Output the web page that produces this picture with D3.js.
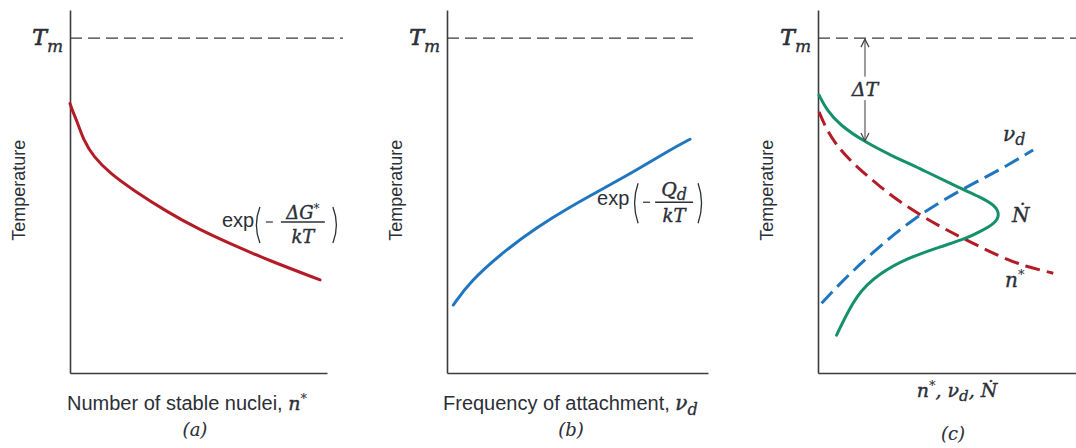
<!DOCTYPE html>
<html><head><meta charset="utf-8">
<script src="https://cdn.jsdelivr.net/npm/d3@7"></script>
<style>body{margin:0;background:#fff}svg{display:block}</style>
</head><body>
<svg id="chart" width="1076" height="448"></svg>
<script>
// ---------- data (x: relative rate 0-100, y: temperature, Tm = 100) ----------
const Tm = 100;
const nucleiA = [[0,80.5],[1.0,78.2],[2.6,75.5],[5.2,69.6],[9.1,64.6],[15.6,59.6],[24.6,54.6],[37.6,48.2],[50.6,42.7],[63.5,38.2],[76.5,33.9],[97.3,27.8]];
const attachB = [[2.4,20.3],[8.8,27.3],[21.6,36.2],[34.4,43.5],[47.1,49.6],[59.9,55.1],[72.7,60.6],[85.4,66.6],[93.1,69.8]];
const rateC   = [[0.4,83.0],[3.4,78.5],[8.5,74.0],[18.2,69.0],[27.9,65.1],[40.8,60.6],[53.8,55.6],[62.8,52.6],[68.6,50.1],[70.5,47.2],[68.6,44.7],[62.8,42.2],[57.6,40.2],[47.3,37.7],[34.4,34.2],[24.0,29.8],[15.0,23.8],[7.2,11.3]];
const nucleiC = [[0.4,78.0],[3.4,72.5],[8.5,66.6],[15.0,61.6],[24.0,55.6],[34.4,49.6],[47.3,43.7],[57.6,39.7],[70.5,34.7],[80.9,31.7],[91.2,29.8]];
const attachC = [[1.4,20.8],[8.5,26.8],[21.4,36.2],[36.9,46.2],[55.0,54.6],[70.5,60.6],[83.4,66.6]];
const panelLetters = ["(a)","(b)","(c)"];
const yTitle = "Temperature";

// ---------- style ----------
const RED="#b31c26", BLUE="#1f76bf", GREEN="#14916b", TXT="#2b2f38", AX="#3c3c3c";
const SANS="'Liberation Sans', Arial, sans-serif", SERIF="'DejaVu Serif', serif";

const svg = d3.select("#chart");
const y = d3.scaleLinear().domain([0,108.4]).range([373,10]);

const layout = [
  {x0:70,  x1:327,  tmEnd:106.2, letterX:195, letterY:436, titleY:410},
  {x0:447, x1:708,  tmEnd:94.3,  letterX:571, letterY:436, titleY:410},
  {x0:818, x1:1076, tmEnd:100,   letterX:953, letterY:440, titleY:397, titleX:957}
];

const curve = d3.curveBasis;

function mathText(g, x, yy, parts, anchor){
  const t = g.append("text").attr("x",x).attr("y",yy).attr("text-anchor",anchor||"start").attr("fill",TXT);
  parts.forEach(p=>{
    const s = t.append("tspan").text(p.t)
      .attr("font-family",p.sans?SANS:SERIF).attr("font-size",p.fs||20);
    if(!p.sans){ s.attr("font-style","italic").attr("stroke",TXT).attr("stroke-width",p.sw===undefined?0.4:p.sw); }
    if(p.dy) s.attr("dy",p.dy);
    if(p.dx) s.attr("dx",p.dx);
  });
  return t;
}

layout.forEach((L,i)=>{
  L.x = d3.scaleLinear().domain([0,100]).range([L.x0,L.x1]);
  const g = svg.append("g");
  g.append("g").attr("transform",`translate(${L.x0},0)`)
    .call(d3.axisLeft(y).tickValues([]).tickSizeOuter(0))
    .select(".domain").attr("stroke",AX).attr("stroke-width",1.6);
  g.append("g").attr("transform",`translate(0,${y(0)})`)
    .call(d3.axisBottom(L.x).tickValues([]).tickSizeOuter(0))
    .select(".domain").attr("stroke",AX).attr("stroke-width",1.6);
  g.append("line").attr("x1",L.x(0)).attr("x2",L.x(L.tmEnd)).attr("y1",y(Tm)).attr("y2",y(Tm))
    .attr("stroke","#3a3a3a").attr("stroke-width",1.3).attr("stroke-dasharray","12,6");
  mathText(g, L.x0-7, y(Tm)+7, [{t:"T",fs:22,sw:0.7},{t:"m",fs:17,dy:7,sw:0.3}], "end");
  g.append("text").attr("transform",`translate(${L.x0-50},${y(54.6)}) rotate(-90)`)
    .attr("text-anchor","middle").attr("dominant-baseline","middle")
    .attr("font-family",SANS).attr("font-size",18).attr("fill",TXT).text(yTitle);
  mathText(g, L.letterX, L.letterY, [{t:panelLetters[i],fs:18,sw:0.1}], "middle");
  L.g = g;
});

function formula(g, ox, oy, num, cfg){
  const f = g.append("g").attr("transform",`translate(${ox},${oy})`);
  f.append("text").attr("font-family",SANS).attr("font-size",20).attr("fill",TXT).text("exp");
  const pp = (x,dir)=>`M${x},${cfg.pt} Q${x-7*dir},${(cfg.pt+cfg.pb)/2} ${x},${cfg.pb}`;
  f.append("path").attr("d",pp(cfg.po,1)).attr("fill","none").attr("stroke",TXT).attr("stroke-width",1.3);
  f.append("path").attr("d",pp(cfg.pc,-1)).attr("fill","none").attr("stroke",TXT).attr("stroke-width",1.3);
  f.append("line").attr("x1",cfg.m0).attr("x2",cfg.m1).attr("y1",cfg.bar).attr("y2",cfg.bar).attr("stroke",TXT).attr("stroke-width",1.2);
  f.append("line").attr("x1",cfg.f0).attr("x2",cfg.f1).attr("y1",cfg.bar).attr("y2",cfg.bar).attr("stroke",TXT).attr("stroke-width",1.3);
  const cx=(cfg.f0+cfg.f1)/2;
  mathText(f,cx,cfg.nb,num,"middle");
  mathText(f,cx,cfg.db,[{t:"kT",fs:18}],"middle");
}

// ---------- panel (a) ----------
{
  const L=layout[0], g=L.g;
  const la = d3.line().curve(curve).x(d=>L.x(d[0])).y(d=>y(d[1]));
  g.append("path").datum(nucleiA).attr("d",la)
    .attr("fill","none").attr("stroke",RED).attr("stroke-width",3).attr("stroke-linecap","round");
  formula(g, L.x(59.1), y(43.6), [{t:"ΔG",fs:18},{t:"*",fs:12,dy:-6,sw:0.1}],
    {po:38,pc:111,pt:-20,pb:16,m0:44,m1:51,bar:-5,f0:59,f1:103,nb:-8,db:16});
  mathText(g, L.x0-3, L.titleY, [{t:"Number of stable nuclei, ",sans:true},{t:"n",fs:19},{t:"*",fs:13,dy:-7,sw:0.1}]);
}
// ---------- panel (b) ----------
{
  const L=layout[1], g=L.g;
  const lb = d3.line().curve(curve).x(d=>L.x(d[0])).y(d=>y(d[1]));
  g.append("path").datum(attachB).attr("d",lb)
    .attr("fill","none").attr("stroke",BLUE).attr("stroke-width",3).attr("stroke-linecap","round");
  formula(g, L.x(57.5), y(50.1), [{t:"Q",fs:19},{t:"d",fs:16,dy:4,sw:0.3}],
    {po:41,pc:101,pt:-22,pb:18,m0:46,m1:53,bar:-3,f0:58,f1:96,nb:-9,db:17});
  mathText(g, L.x0-4, L.titleY, [{t:"Frequency of attachment, ",sans:true},{t:"ν",fs:20},{t:"d",fs:16,dy:5,sw:0.3}]);
}
// ---------- panel (c) ----------
{
  const L=layout[2], g=L.g;
  const lc = d3.line().curve(curve).x(d=>L.x(d[0])).y(d=>y(d[1]));
  g.append("path").datum(nucleiC).attr("d",lc).attr("fill","none").attr("stroke",RED)
    .attr("stroke-width",3).attr("stroke-dasharray","15,7");
  g.append("path").datum(attachC).attr("d",lc).attr("fill","none").attr("stroke",BLUE)
    .attr("stroke-width",3).attr("stroke-dasharray","16,7");
  g.append("path").datum(rateC).attr("d",lc).attr("fill","none").attr("stroke",GREEN)
    .attr("stroke-width",3).attr("stroke-linecap","round");
  const ax = L.x(18.2), yTop=y(Tm)+1, yBot=y(69.3);
  g.append("line").attr("x1",ax).attr("x2",ax).attr("y1",yTop).attr("y2",y(88.5)).attr("stroke","#9a9a9a").attr("stroke-width",2);
  g.append("line").attr("x1",ax).attr("x2",ax).attr("y1",y(81.5)).attr("y2",yBot).attr("stroke","#9a9a9a").attr("stroke-width",2);
  g.append("path").attr("d",`M${ax-4},${yTop+8} L${ax},${yTop} L${ax+4},${yTop+8}`).attr("fill","none").attr("stroke","#444").attr("stroke-width",1.2);
  g.append("path").attr("d",`M${ax-4},${yBot-8} L${ax},${yBot} L${ax+4},${yBot-8}`).attr("fill","none").attr("stroke","#444").attr("stroke-width",1.2);
  mathText(g, ax, y(82.7), [{t:"ΔT",fs:19}], "middle");
  mathText(g, L.x(71.7), y(69.3), [{t:"ν",fs:20},{t:"d",fs:16,dy:4,sw:0.3}]);
  mathText(g, L.x(75.2), y(45.1), [{t:"Ṅ",fs:20}]);
  mathText(g, L.x(72.5), y(25.7), [{t:"n",fs:20},{t:"*",fs:13,dy:-8,sw:0.1}]);
  mathText(g, L.titleX, L.titleY, [{t:"n",fs:19},{t:"*",fs:13,dy:-7,sw:0.1},{t:", ",fs:19,dy:7},{t:"ν",fs:19},{t:"d",fs:15,dy:4,sw:0.3},{t:", ",fs:19,dy:-4},{t:"Ṅ",fs:19}], "middle");
}
</script>
</body></html>
